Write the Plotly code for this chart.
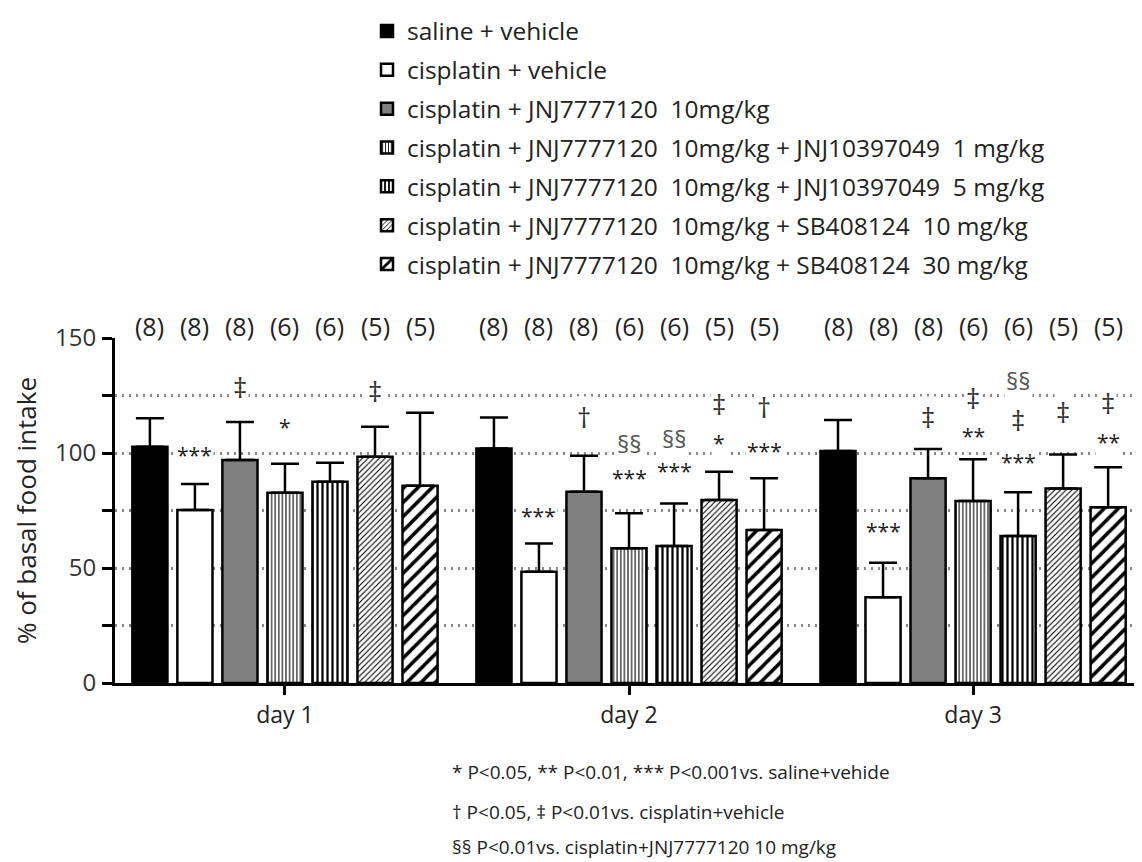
import plotly.graph_objects as go

days = ["day 1", "day 2", "day 3"]

groups = [
    "saline + vehicle",
    "cisplatin + vehicle",
    "cisplatin + JNJ7777120\u00a0 10mg/kg",
    "cisplatin + JNJ7777120\u00a0 10mg/kg + JNJ10397049\u00a0 1 mg/kg",
    "cisplatin + JNJ7777120\u00a0 10mg/kg + JNJ10397049\u00a0 5 mg/kg",
    "cisplatin + JNJ7777120\u00a0 10mg/kg + SB408124\u00a0 10 mg/kg",
    "cisplatin + JNJ7777120\u00a0 10mg/kg + SB408124\u00a0 30 mg/kg",
]

# mean % of basal food intake per group and day
saline_vehicle = [102.7, 102.0, 100.9]
cisplatin_vehicle = [75.2, 48.4, 37.3]
jnj_10 = [97.0, 83.2, 89.0]
jnj_jnj1 = [82.7, 58.6, 79.1]
jnj_jnj5 = [87.5, 59.6, 63.9]
jnj_sb10 = [98.4, 79.6, 84.6]
jnj_sb30 = [85.8, 66.5, 76.4]

# SEM (upper error bars)
sem_saline_vehicle = [12.4, 13.4, 13.4]
sem_cisplatin_vehicle = [11.3, 12.2, 15.0]
sem_jnj_10 = [16.5, 15.6, 12.7]
sem_jnj_jnj1 = [12.6, 15.2, 18.2]
sem_jnj_jnj5 = [8.3, 18.4, 19.0]
sem_jnj_sb10 = [13.0, 12.3, 14.8]
sem_jnj_sb30 = [31.7, 22.5, 17.4]

n_per_group = [8, 8, 8, 6, 6, 5, 5]
n_label_y = 155

means = [saline_vehicle, cisplatin_vehicle, jnj_10, jnj_jnj1, jnj_jnj5, jnj_sb10, jnj_sb30]
sems = [sem_saline_vehicle, sem_cisplatin_vehicle, sem_jnj_10, sem_jnj_jnj1,
        sem_jnj_jnj5, sem_jnj_sb10, sem_jnj_sb30]

# significance markers: group index, day index, label, y position
sig_group = [1, 2, 3, 5,
             1, 2, 3, 3, 4, 4, 5, 5, 6, 6,
             1, 2, 3, 3, 4, 4, 4, 5, 6, 6]
sig_day = [0, 0, 0, 0,
           1, 1, 1, 1, 1, 1, 1, 1, 1, 1,
           2, 2, 2, 2, 2, 2, 2, 2, 2, 2]
sig_text = ["***", "‡", "*", "‡",
            "***", "†", "§§", "***", "§§", "***", "‡", "*", "†", "***",
            "***", "‡", "‡", "**", "§§", "‡", "***", "‡", "‡", "**"]
sig_y = [99, 128.8, 111.4, 127,
         72.6, 115.8, 104.2, 89, 106.4, 92.3, 121.3, 104.2, 120.1, 101,
         66.2, 115.8, 123.8, 107.4, 131.7, 114.3, 96.2, 118, 121.6, 104.6]

footnotes = [
    "* P<0.05, ** P<0.01, *** P<0.001vs. saline+vehide",
    "† P<0.05, ‡ P<0.01vs. cisplatin+vehicle",
    "§§ P<0.01vs. cisplatin+JNJ7777120 10 mg/kg",
]

FONT = "Open Sans"
PAGE_OFF = 8                      # default body margin of the html page
W, H = 1142 - PAGE_OFF, 862 - PAGE_OFF
M_L, M_R, M_T, M_B = 115 - PAGE_OFF, 0, 338 - PAGE_OFF, 179
PLOT_W = W - M_L - M_R
PLOT_H = H - M_T - M_B


def px_to_paper_x(px):
    return (px - PAGE_OFF - M_L) / PLOT_W


def px_to_paper_y(py):
    return (H - M_B - (py - PAGE_OFF)) / PLOT_H


styles = [
    dict(color="black"),
    dict(color="white"),
    dict(color="#808080"),
    dict(color="white", pattern=dict(shape="|", size=3.6, solidity=0.3, fgcolor="black",
                                     bgcolor="white", fillmode="replace")),
    dict(color="white", pattern=dict(shape="|", size=5, solidity=0.45, fgcolor="black",
                                     bgcolor="white", fillmode="replace")),
    dict(color="white", pattern=dict(shape="/", size=4, solidity=0.28, fgcolor="black",
                                     bgcolor="white", fillmode="replace")),
    dict(color="white", pattern=dict(shape="/", size=10, solidity=0.35, fgcolor="black",
                                     bgcolor="white", fillmode="replace")),
]

fig = go.Figure()
for i, name in enumerate(groups):
    st = styles[i]
    marker = dict(color=st["color"], line=dict(color="black", width=2.5))
    if "pattern" in st:
        marker["pattern"] = st["pattern"]
    fig.add_trace(go.Bar(
        name=name, x=days, y=means[i], marker=marker, legendgroup=f"g{i}",
        error_y=dict(type="data", array=sems[i], arrayminus=[0] * len(days),
                     symmetric=False, color="black", thickness=2.5, width=14),
    ))

BARGAP = 0.084
ngroups = len(groups)
slot = (1 - BARGAP) / ngroups
YMAX = 150

annotations = []
for d in range(len(days)):
    for i in range(ngroups):
        annotations.append(dict(
            x=d + (i - (ngroups - 1) / 2) * slot, y=n_label_y / YMAX, xref="x", yref="paper",
            yanchor="middle", text=f"({n_per_group[i]})", showarrow=False,
            font=dict(family=FONT, size=25, color="#222"),
        ))
for g, d, t, yv in zip(sig_group, sig_day, sig_text, sig_y):
    if t in ("‡", "†"):
        fsize, col = 28, "#333"
    elif t == "§§":
        fsize, col = 24, "#555"
    else:
        fsize, col = 21, "#222"
    annotations.append(dict(
        x=d + (g - (ngroups - 1) / 2) * slot, y=yv, xref="x", yref="y",
        yanchor="middle", text=t, showarrow=False, bgcolor="white",
        font=dict(family=FONT, size=fsize, color=col),
    ))

foot_px = [772, 812, 847]  # window pixel rows of the footnotes
for t, yp in zip(footnotes, foot_px):
    annotations.append(dict(
        x=px_to_paper_x(450), y=px_to_paper_y(yp),
        xref="paper", yref="paper", xanchor="left", yanchor="middle",
        text=t, showarrow=False, font=dict(family=FONT, size=19, color="#222"),
    ))

fig.update_layout(
    width=W, height=H,
    margin=dict(l=M_L, r=M_R, t=M_T, b=M_B),
    paper_bgcolor="white", plot_bgcolor="white",
    barmode="group", bargap=BARGAP, bargroupgap=0.22,
    font=dict(family=FONT, color="#222"),
    legend=dict(
        x=px_to_paper_x(367), y=px_to_paper_y(8.5), xanchor="left", yanchor="top",
        orientation="v", font=dict(family=FONT, size=24.5, color="#222"),
        tracegroupgap=4, bgcolor="rgba(0,0,0,0)",
    ),
    annotations=annotations,
)
fig.update_xaxes(
    range=[-0.494, 2.491], showline=True, linecolor="black", linewidth=3,
    ticks="outside", ticklen=9, tickwidth=3, tickcolor="black", automargin=False,
    tickfont=dict(family=FONT, size=23, color="#222"), showgrid=False,
)
fig.update_yaxes(
    range=[0, YMAX], tickvals=[0, 50, 100, 150], showline=True, linecolor="black",
    linewidth=3, ticks="outside", ticklen=10, tickwidth=2.5, tickcolor="black",
    tickfont=dict(family=FONT, size=24, color="#333"), showgrid=False, zeroline=False,
    ticklabelstandoff=1, automargin=False,
    minor=dict(tickvals=[25, 50, 75, 100, 125], ticks="outside", ticklen=10,
               tickwidth=2.5, tickcolor="black", showgrid=True, gridcolor="#888",
               griddash="2px,5px", gridwidth=2.5),
    title=dict(text="% of basal food intake", font=dict(family=FONT, size=26, color="#222"),
               standoff=22),
)

fig.write_html("out.html")
